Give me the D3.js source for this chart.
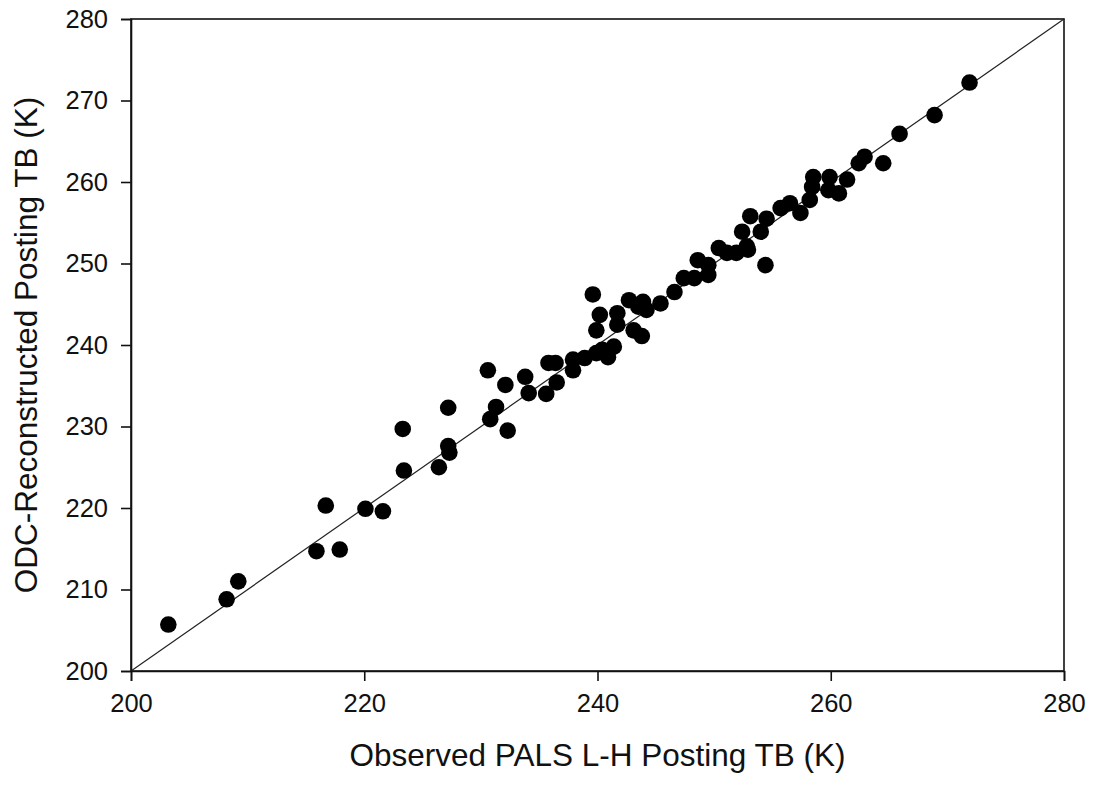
<!DOCTYPE html>
<html>
<head>
<meta charset="utf-8">
<script src="https://cdn.jsdelivr.net/npm/d3@7"></script>
<style>
  html, body { margin: 0; padding: 0; background: #fff; }
  svg { display: block; }
  text { font-family: "Liberation Sans", Arial, sans-serif; fill: #111; }
</style>
</head>
<body>
<svg id="chart" width="1095" height="786"></svg>
<script>
// Observed PALS L-H posting TB (K)
const observedTB = [
  203.2, 208.2, 209.2, 215.9, 217.9, 216.7, 220.1, 221.6, 223.3, 223.4,
  226.4, 227.2, 227.2, 227.3, 230.8, 231.3, 232.3, 232.1, 230.6, 233.8,
  234.1, 235.6, 236.5, 235.8, 236.4, 237.9, 237.9, 238.9, 239.9, 240.9,
  241.4, 239.9, 240.2, 239.6, 241.7, 241.7, 242.7, 243.1, 243.8, 243.9,
  244.2, 245.4, 246.6, 247.4, 248.3, 248.6, 249.5, 249.5, 250.4, 251.1,
  251.9, 252.4, 252.9, 253.1, 254.0, 254.4, 254.5, 255.7, 256.5, 257.4,
  258.2, 258.4, 258.5, 259.9, 259.8, 260.7, 261.4, 262.4, 262.9, 264.5,
  265.9, 268.9, 271.9, 240.4, 243.5, 252.8
];
// ODC-reconstructed posting TB (K)
const reconstructedTB = [
  205.7, 208.8, 211.0, 214.7, 214.9, 220.3, 219.9, 219.6, 229.7, 224.6,
  225.0, 232.3, 227.6, 226.8, 230.9, 232.4, 229.5, 235.1, 236.9, 236.1,
  234.1, 234.0, 235.4, 237.8, 237.8, 236.9, 238.2, 238.4, 239.0, 238.5,
  239.8, 241.8, 243.7, 246.2, 243.9, 242.5, 245.5, 241.8, 241.1, 245.3,
  244.3, 245.1, 246.5, 248.2, 248.2, 250.4, 248.6, 249.8, 251.9, 251.3,
  251.3, 253.9, 251.7, 255.8, 253.9, 249.8, 255.5, 256.8, 257.4, 256.2,
  257.8, 259.4, 260.6, 260.6, 259.0, 258.6, 260.3, 262.3, 263.1, 262.3,
  265.9, 268.2, 272.2, 239.4, 244.7, 252.1
];
const xTicks = [200, 220, 240, 260, 280];
const yTicks = [200, 210, 220, 230, 240, 250, 260, 270, 280];
const oneToOne = [200, 280];
const xTitle = "Observed PALS L-H Posting TB (K)";
const yTitle = "ODC-Reconstructed Posting TB (K)";

(function () {
const svg = d3.select("#chart");
const pL = 131, pR = 1064, pT = 19, pB = 671;

const x = d3.scaleLinear().domain([200, 280]).range([pL, pR]);
const y = d3.scaleLinear().domain([200, 280]).range([pB, pT]);

// frame
svg.append("rect")
  .attr("x", pL).attr("y", pT)
  .attr("width", pR - pL).attr("height", pB - pT)
  .attr("fill", "none").attr("stroke", "#111").attr("stroke-width", 1.6);

// 1:1 line
svg.append("line")
  .attr("x1", x(oneToOne[0])).attr("y1", y(oneToOne[0]))
  .attr("x2", x(oneToOne[1])).attr("y2", y(oneToOne[1]))
  .attr("stroke", "#222").attr("stroke-width", 1.2);

// points
const pts = observedTB.map((v, i) => ({ o: v, r: reconstructedTB[i] }));
svg.append("g").selectAll("circle").data(pts).join("circle")
  .attr("cx", d => x(d.o)).attr("cy", d => y(d.r))
  .attr("r", 8.3).attr("fill", "#000");

// axes
const xAxis = svg.append("g").attr("transform", `translate(0,${pB})`)
  .call(d3.axisBottom(x).tickValues(xTicks).tickSize(10).tickPadding(13).tickFormat(d3.format("d")));
const yAxis = svg.append("g").attr("transform", `translate(${pL},0)`)
  .call(d3.axisLeft(y).tickValues(yTicks).tickSize(10).tickPadding(13).tickFormat(d3.format("d")));
[xAxis, yAxis].forEach(g => {
  g.select(".domain").attr("stroke", "#111").attr("stroke-width", 1.6);
  g.selectAll(".tick line").attr("stroke", "#111").attr("stroke-width", 1.6);
  g.selectAll(".tick text").attr("font-size", 25.5)
    .attr("font-family", "Liberation Sans, Arial, sans-serif").attr("fill", "#111");
});

// titles
svg.append("text")
  .attr("x", (pL + pR) / 2).attr("y", 766)
  .attr("text-anchor", "middle").attr("font-size", 31.5)
  .text(xTitle);
svg.append("text")
  .attr("transform", `translate(37,${(pT + pB) / 2}) rotate(-90)`)
  .attr("text-anchor", "middle").attr("font-size", 31.5)
  .text(yTitle);
})();
</script>
</body>
</html>
